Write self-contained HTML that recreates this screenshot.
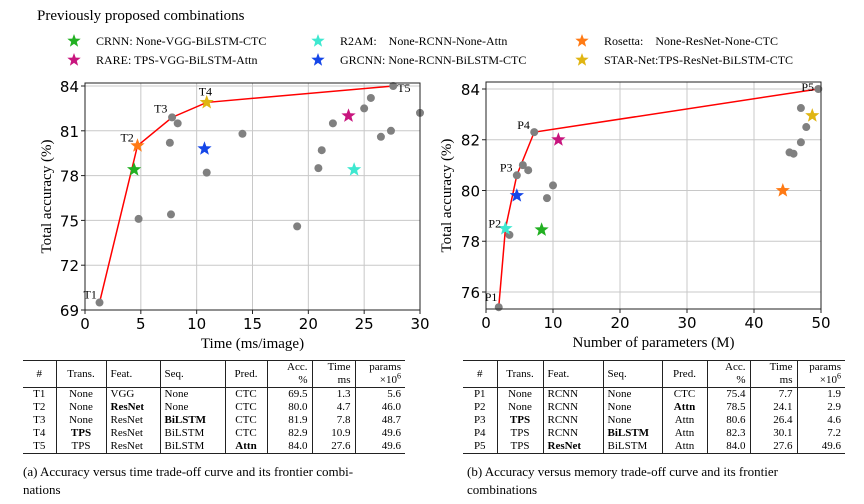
<!DOCTYPE html>
<html><head><meta charset="utf-8">
<style>
body{margin:0;width:864px;height:504px;background:#fff;position:relative;overflow:hidden;font-family:"Liberation Serif",serif;}
.abs{position:absolute;}
table{border-collapse:collapse;font-family:"Liberation Serif",serif;font-size:11px;line-height:13px;}
td,th{padding:0 4px;font-weight:normal;white-space:nowrap;}
.cap{font-size:13px;line-height:18px;}
</style></head><body>
<div class="abs" style="left:37px;top:8px;font-size:15px;">Previously proposed combinations</div>
<svg class="abs" style="left:0;top:0" width="864" height="504" id="svg"></svg>

<div class="abs" style="left:23px;top:360px;">
<table style="width:382px;border-top:1.5px solid #222;border-bottom:1.5px solid #222;">
<colgroup><col style="width:33px"><col style="width:50px"><col style="width:54px"><col style="width:65px"><col style="width:42px"><col style="width:45px"><col style="width:43px"><col style="width:50px"></colgroup>
<tr style="border-bottom:1px solid #222;height:27px;"><td style="text-align:center">#</td><td style="border-left:1px solid #222;text-align:center">Trans.</td><td style="border-left:1px solid #222">Feat.</td><td style="border-left:1px solid #222">Seq.</td><td style="border-left:1px solid #222;text-align:center">Pred.</td><td style="border-left:1px solid #222;text-align:right">Acc.<br>%</td><td style="border-left:1px solid #222;text-align:right">Time<br>ms</td><td style="border-left:1px solid #222;text-align:right">params<br>×10<sup style="font-size:8px;line-height:0">6</sup></td></tr>
<tr><td style="text-align:center">T1</td><td style="border-left:1px solid #222;text-align:center">None</td><td style="border-left:1px solid #222">VGG</td><td style="border-left:1px solid #222">None</td><td style="border-left:1px solid #222;text-align:center">CTC</td><td style="border-left:1px solid #222;text-align:right">69.5</td><td style="border-left:1px solid #222;text-align:right">1.3</td><td style="border-left:1px solid #222;text-align:right">5.6</td></tr>
<tr><td style="text-align:center">T2</td><td style="border-left:1px solid #222;text-align:center">None</td><td style="border-left:1px solid #222"><b>ResNet</b></td><td style="border-left:1px solid #222">None</td><td style="border-left:1px solid #222;text-align:center">CTC</td><td style="border-left:1px solid #222;text-align:right">80.0</td><td style="border-left:1px solid #222;text-align:right">4.7</td><td style="border-left:1px solid #222;text-align:right">46.0</td></tr>
<tr><td style="text-align:center">T3</td><td style="border-left:1px solid #222;text-align:center">None</td><td style="border-left:1px solid #222">ResNet</td><td style="border-left:1px solid #222"><b>BiLSTM</b></td><td style="border-left:1px solid #222;text-align:center">CTC</td><td style="border-left:1px solid #222;text-align:right">81.9</td><td style="border-left:1px solid #222;text-align:right">7.8</td><td style="border-left:1px solid #222;text-align:right">48.7</td></tr>
<tr><td style="text-align:center">T4</td><td style="border-left:1px solid #222;text-align:center"><b>TPS</b></td><td style="border-left:1px solid #222">ResNet</td><td style="border-left:1px solid #222">BiLSTM</td><td style="border-left:1px solid #222;text-align:center">CTC</td><td style="border-left:1px solid #222;text-align:right">82.9</td><td style="border-left:1px solid #222;text-align:right">10.9</td><td style="border-left:1px solid #222;text-align:right">49.6</td></tr>
<tr><td style="text-align:center">T5</td><td style="border-left:1px solid #222;text-align:center">TPS</td><td style="border-left:1px solid #222">ResNet</td><td style="border-left:1px solid #222">BiLSTM</td><td style="border-left:1px solid #222;text-align:center"><b>Attn</b></td><td style="border-left:1px solid #222;text-align:right">84.0</td><td style="border-left:1px solid #222;text-align:right">27.6</td><td style="border-left:1px solid #222;text-align:right">49.6</td></tr>
</table></div>
<div class="abs cap" style="left:23px;top:463px;width:395px;">(a) Accuracy versus time trade-off curve and its frontier combi-<br>nations</div>

<div class="abs" style="left:463px;top:360px;">
<table style="width:382px;border-top:1.5px solid #222;border-bottom:1.5px solid #222;">
<colgroup><col style="width:34px"><col style="width:46px"><col style="width:60px"><col style="width:59px"><col style="width:45px"><col style="width:43px"><col style="width:47px"><col style="width:48px"></colgroup>
<tr style="border-bottom:1px solid #222;height:27px;"><td style="text-align:center">#</td><td style="border-left:1px solid #222;text-align:center">Trans.</td><td style="border-left:1px solid #222">Feat.</td><td style="border-left:1px solid #222">Seq.</td><td style="border-left:1px solid #222;text-align:center">Pred.</td><td style="border-left:1px solid #222;text-align:right">Acc.<br>%</td><td style="border-left:1px solid #222;text-align:right">Time<br>ms</td><td style="border-left:1px solid #222;text-align:right">params<br>×10<sup style="font-size:8px;line-height:0">6</sup></td></tr>
<tr><td style="text-align:center">P1</td><td style="border-left:1px solid #222;text-align:center">None</td><td style="border-left:1px solid #222">RCNN</td><td style="border-left:1px solid #222">None</td><td style="border-left:1px solid #222;text-align:center">CTC</td><td style="border-left:1px solid #222;text-align:right">75.4</td><td style="border-left:1px solid #222;text-align:right">7.7</td><td style="border-left:1px solid #222;text-align:right">1.9</td></tr>
<tr><td style="text-align:center">P2</td><td style="border-left:1px solid #222;text-align:center">None</td><td style="border-left:1px solid #222">RCNN</td><td style="border-left:1px solid #222">None</td><td style="border-left:1px solid #222;text-align:center"><b>Attn</b></td><td style="border-left:1px solid #222;text-align:right">78.5</td><td style="border-left:1px solid #222;text-align:right">24.1</td><td style="border-left:1px solid #222;text-align:right">2.9</td></tr>
<tr><td style="text-align:center">P3</td><td style="border-left:1px solid #222;text-align:center"><b>TPS</b></td><td style="border-left:1px solid #222">RCNN</td><td style="border-left:1px solid #222">None</td><td style="border-left:1px solid #222;text-align:center">Attn</td><td style="border-left:1px solid #222;text-align:right">80.6</td><td style="border-left:1px solid #222;text-align:right">26.4</td><td style="border-left:1px solid #222;text-align:right">4.6</td></tr>
<tr><td style="text-align:center">P4</td><td style="border-left:1px solid #222;text-align:center">TPS</td><td style="border-left:1px solid #222">RCNN</td><td style="border-left:1px solid #222"><b>BiLSTM</b></td><td style="border-left:1px solid #222;text-align:center">Attn</td><td style="border-left:1px solid #222;text-align:right">82.3</td><td style="border-left:1px solid #222;text-align:right">30.1</td><td style="border-left:1px solid #222;text-align:right">7.2</td></tr>
<tr><td style="text-align:center">P5</td><td style="border-left:1px solid #222;text-align:center">TPS</td><td style="border-left:1px solid #222"><b>ResNet</b></td><td style="border-left:1px solid #222">BiLSTM</td><td style="border-left:1px solid #222;text-align:center">Attn</td><td style="border-left:1px solid #222;text-align:right">84.0</td><td style="border-left:1px solid #222;text-align:right">27.6</td><td style="border-left:1px solid #222;text-align:right">49.6</td></tr>
</table></div>
<div class="abs cap" style="left:467px;top:463px;width:385px;text-align:justify;">(b) Accuracy versus memory trade-off curve and its frontier<br>combinations</div>

<script>
// ---- Data ----
const legendNames = ["CRNN: None-VGG-BiLSTM-CTC","R2AM:    None-RCNN-None-Attn","Rosetta:    None-ResNet-None-CTC","RARE: TPS-VGG-BiLSTM-Attn","GRCNN: None-RCNN-BiLSTM-CTC","STAR-Net:TPS-ResNet-BiLSTM-CTC"];
const legendColors = ["#22b022","#3ee8d0","#ff7a14","#c8157e","#1546e8","#e0b512"];
const legendKeys = ["crnn","r2am","rosetta","rare","grcnn","starnet"];
// Left chart: time
const timeGrayX = [4.8,7.6,7.7,7.8,8.3,10.9,14.1,19.0,20.9,21.2,22.2,25.0,25.6,26.5,27.4,27.6,30.0,1.3];
const timeGrayY = [75.1,80.2,75.4,81.9,81.5,78.2,80.8,74.6,78.5,79.7,81.5,82.5,83.2,80.6,81.0,84.0,82.2,69.5];
const timeFrontX = [1.3,4.7,7.8,10.9,27.6];
const timeFrontY = [69.5,80.0,81.9,82.9,84.0];
const timeFrontLabels = ["T1","T2","T3","T4","T5"];
const timeStarX = [4.4,24.1,4.7,23.6,10.7,10.9];
const timeStarY = [78.4,78.4,80.0,82.0,79.8,82.9];
const timeXTicks = [0,5,10,15,20,25,30];
const timeYTicks = [69,72,75,78,81,84];
// Right chart: params
const memGrayX = [1.9,3.5,4.6,5.5,6.3,7.2,9.1,10.0,45.3,45.9,47.0,47.0,47.8,49.6];
const memGrayY = [75.4,78.25,80.6,81.0,80.8,82.3,79.7,80.2,81.5,81.45,81.9,83.25,82.5,84.0];
const memFrontX = [1.9,2.9,4.6,7.2,49.6];
const memFrontY = [75.4,78.5,80.6,82.3,84.0];
const memFrontLabels = ["P1","P2","P3","P4","P5"];
const memStarX = [8.3,2.9,44.3,10.8,4.6,48.7];
const memStarY = [78.45,78.5,80.0,82.0,79.8,82.95];
const memXTicks = [0,10,20,30,40,50];
const memYTicks = [76,78,80,82,84];

const NS="http://www.w3.org/2000/svg";
const svg=document.getElementById('svg');
function mk(tag,attrs,parent){const e=document.createElementNS(NS,tag);for(const k in attrs)e.setAttribute(k,attrs[k]);(parent||svg).appendChild(e);return e;}
function starPts(cx,cy,R){const r=R*0.42;let p=[];for(let i=0;i<10;i++){const a=-Math.PI/2+i*Math.PI/5;const rr=i%2?r:R;p.push((cx+rr*Math.cos(a)).toFixed(1)+","+(cy+rr*Math.sin(a)).toFixed(1));}return p.join(" ");}

// legend
const lx=[74,318,582], ly=[41,60];
for(let i=0;i<6;i++){
  const cx=lx[i%3], cy=ly[Math.floor(i/3)];
  const s=mk('polygon',{points:starPts(cx,cy,7),fill:legendColors[i]});
  
  
  const t=mk('text',{x:cx+22,y:cy+4,'font-size':'12','font-family':'Liberation Serif, serif',style:'white-space:pre'});
  t.textContent=legendNames[i];
  
  
}

function chart(o){
  const g=mk('g',{});
  
  
  const sx=v=>o.x0+(v-o.xmin)/(o.xmax-o.xmin)*(o.x1-o.x0);
  const sy=v=>o.y0-(v-o.ymin)/(o.ymax-o.ymin)*(o.y0-o.y1);
  const top=o.top, bot=o.y0;
  // grid
  o.xt.forEach(v=>{const l=mk('line',{x1:sx(v),x2:sx(v),y1:top,y2:bot,stroke:'#c8c8c8','stroke-width':1},g);});
  o.yt.forEach(v=>{const l=mk('line',{x1:o.x0,x2:o.x1,y1:sy(v),y2:sy(v),stroke:'#c8c8c8','stroke-width':1},g);});
  // frontier
  const pl=mk('polyline',{points:o.fx.map((v,i)=>sx(v)+','+sy(o.fy[i])).join(' '),fill:'none',stroke:'#f00','stroke-width':1.5},g);
  
  
  // gray points
  o.gx.forEach((v,i)=>{const c=mk('circle',{cx:sx(v),cy:sy(o.gy[i]),r:4,fill:'#808080'},g);
    
    });
  // stars
  o.sx.forEach((v,i)=>{const s=mk('polygon',{points:starPts(sx(v),sy(o.sy[i]),7.5),fill:legendColors[i]},g);
    
    });
  // frontier labels
  o.fx.forEach((v,i)=>{const off=o.loff[i];const t=mk('text',{x:sx(v)+off[0],y:sy(o.fy[i])+off[1],'font-size':'12','font-family':'Liberation Serif, serif'},g);t.textContent=o.fl[i];
    
    });
  // frame
  const fr=mk('rect',{x:o.x0,y:top,width:o.x1-o.x0,height:bot-top,fill:'none',stroke:'#222','stroke-width':1},g);
  
  
  // ticks
  o.xt.forEach(v=>{mk('line',{x1:sx(v),x2:sx(v),y1:bot,y2:bot+4,stroke:'#222'},g);
    const t=mk('text',{x:sx(v),y:bot+19,'text-anchor':'middle','font-size':'15','font-family':'DejaVu Sans, sans-serif'},g);t.textContent=v;
    
    });
  o.yt.forEach(v=>{mk('line',{x1:o.x0-4,x2:o.x0,y1:sy(v),y2:sy(v),stroke:'#222'},g);
    const t=mk('text',{x:o.x0-6,y:sy(v)+6,'text-anchor':'end','font-size':'15','font-family':'DejaVu Sans, sans-serif'},g);t.textContent=v;
    
    });
  const xt=mk('text',{x:(o.x0+o.x1)/2,y:bot+38,'text-anchor':'middle','font-size':'15','font-family':'Liberation Serif, serif'},g);xt.textContent=o.xlabel;
  
  
  const yc=(top+bot)/2;
  const yt=mk('text',{x:o.ylx,y:yc,'text-anchor':'middle','font-size':'15','font-family':'Liberation Serif, serif',transform:'rotate(-90 '+o.ylx+' '+yc+')'},g);yt.textContent='Total accuracy (%)';
  
  
}
chart({name:'time-chart',x0:85,x1:420,xmin:0,xmax:30,y0:310,y1:86,ymin:69,ymax:84,top:83,
  gx:timeGrayX,gy:timeGrayY,fx:timeFrontX,fy:timeFrontY,fl:timeFrontLabels,sx:timeStarX,sy:timeStarY,
  xt:timeXTicks,yt:timeYTicks,xlabel:'Time (ms/image)',ylx:51,
  loff:[[-16,-4],[-17,-4],[-18,-5],[-8,-7],[4,6]]});
chart({name:'params-chart',x0:486,x1:821,xmin:0,xmax:50,y0:309,y1:89,ymin:75.33,ymax:84,top:82,
  gx:memGrayX,gy:memGrayY,fx:memFrontX,fy:memFrontY,fl:memFrontLabels,sx:memStarX,sy:memStarY,
  xt:memXTicks,yt:memYTicks,xlabel:'Number of parameters (M)',ylx:451,
  loff:[[-14,-6],[-17,-1],[-17,-4],[-17,-3],[-17,2]]});
</script>
</body></html>
